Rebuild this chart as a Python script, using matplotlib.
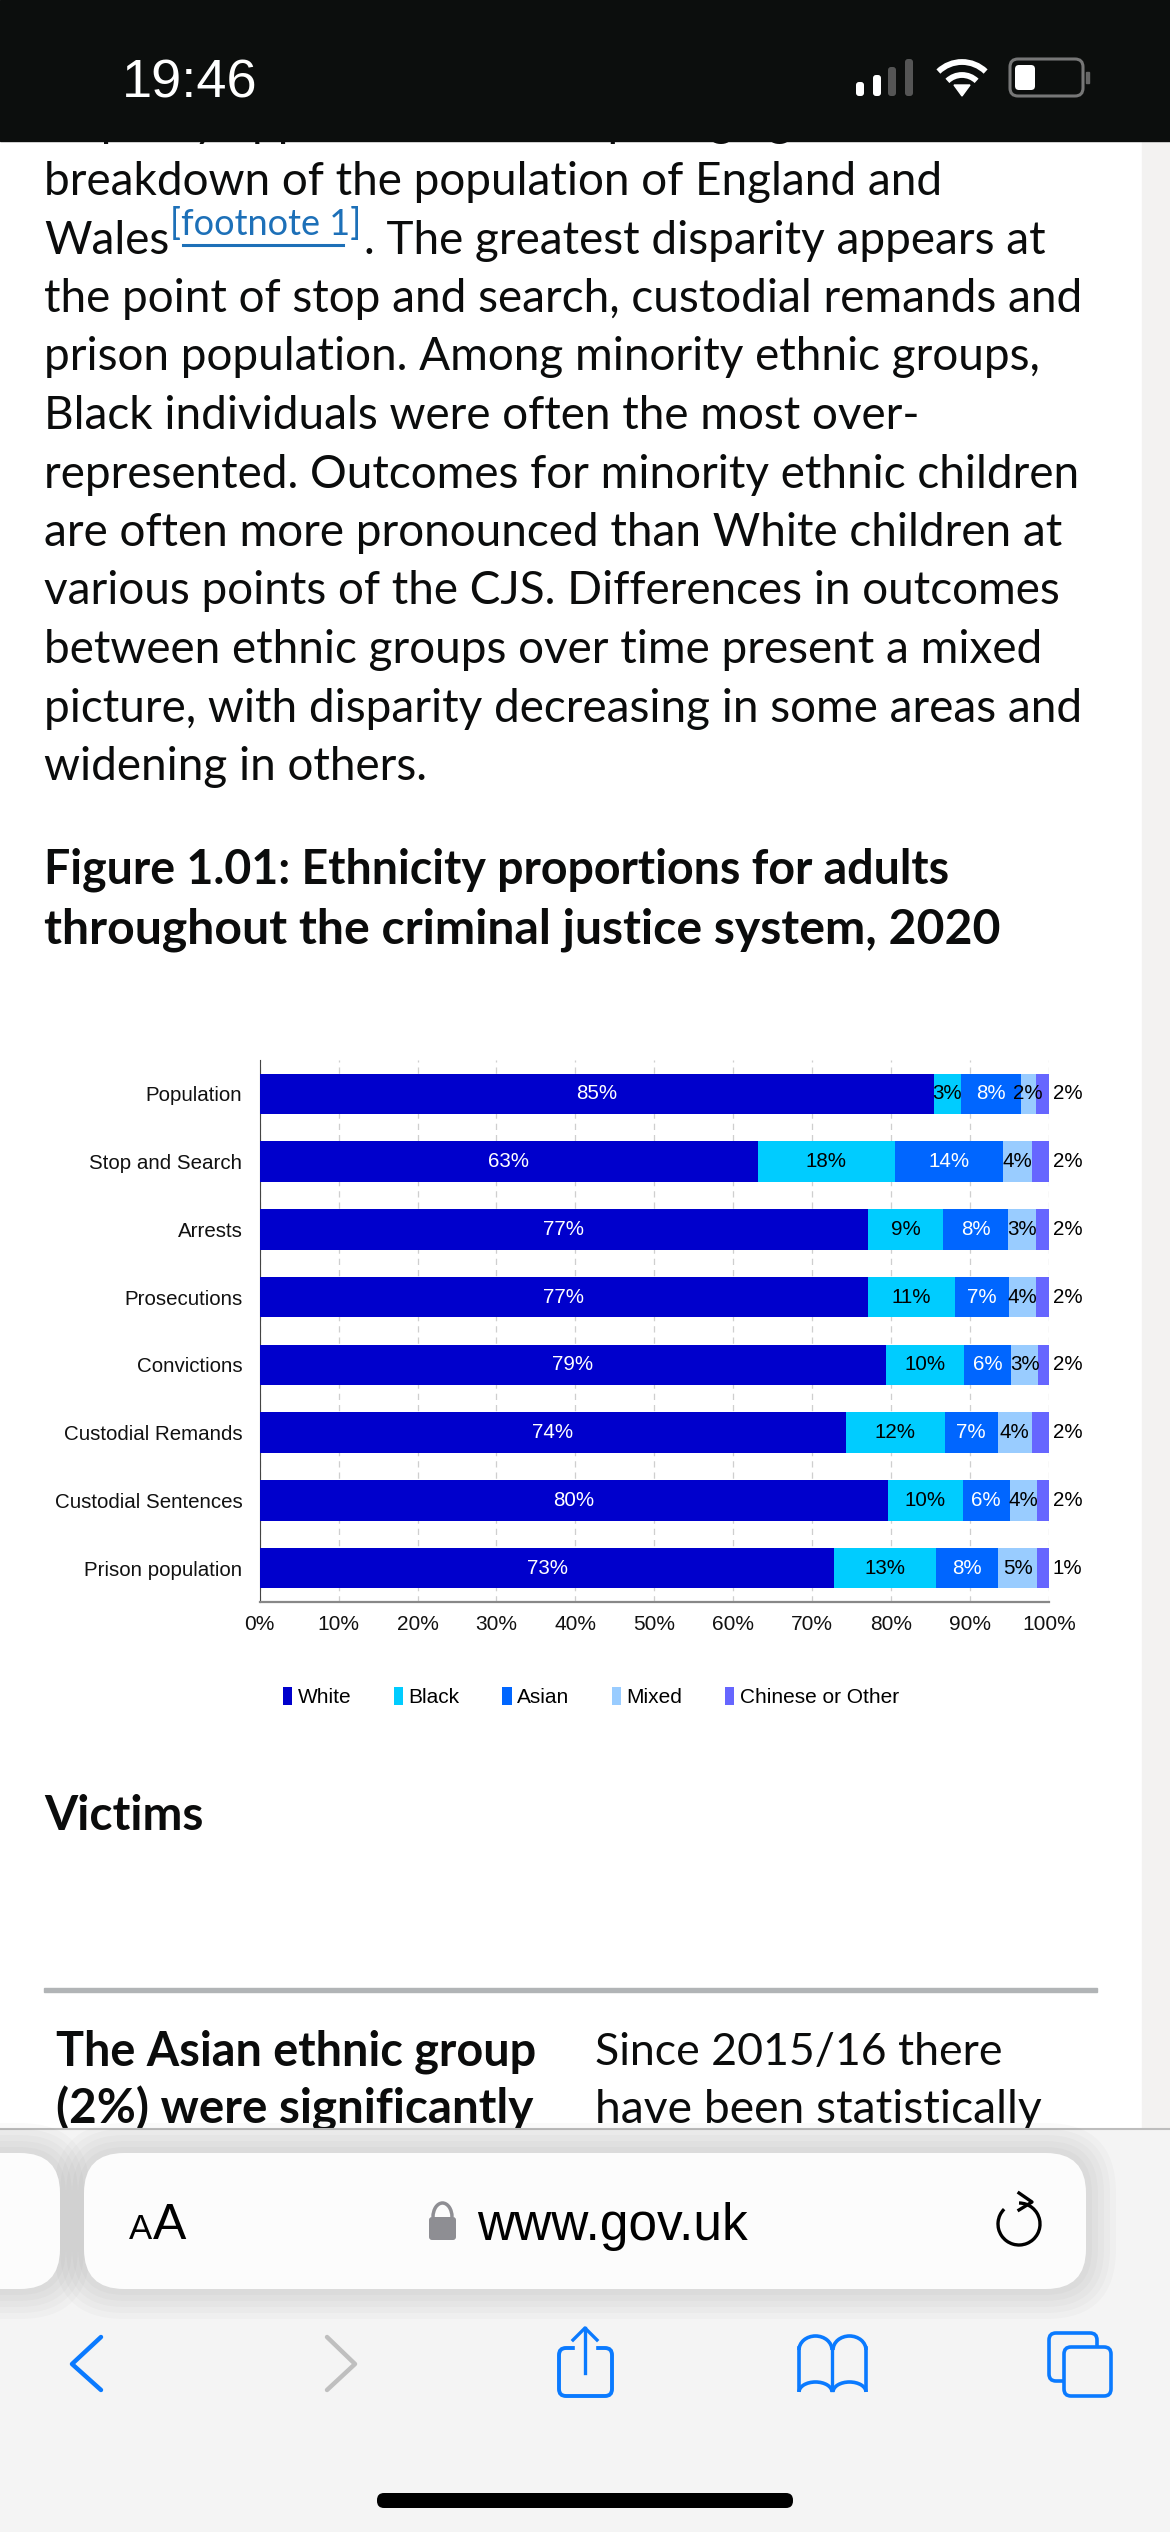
import numpy as np
import matplotlib
matplotlib.use("Agg")
import matplotlib.pyplot as plt
from matplotlib.patches import FancyBboxPatch, Rectangle, Arc, Polygon

categories = ["Population", "Stop and Search", "Arrests", "Prosecutions", "Convictions",
              "Custodial Remands", "Custodial Sentences", "Prison population"]
white = [85.4, 63.1, 77.1, 77.1, 79.3, 74.3, 79.6, 72.8]
black = [3.4, 17.4, 9.5, 11.0, 9.9, 12.5, 9.5, 12.9]
asian = [7.6, 13.7, 8.2, 6.8, 6.0, 6.7, 5.9, 7.9]
mixed = [1.9, 3.7, 3.5, 3.5, 3.4, 4.3, 3.5, 4.9]
other = [1.7, 2.1, 1.7, 1.6, 1.4, 2.2, 1.5, 1.5]

white_labels = ["85%", "63%", "77%", "77%", "79%", "74%", "80%", "73%"]
black_labels = ["3%", "18%", "9%", "11%", "10%", "12%", "10%", "13%"]
asian_labels = ["8%", "14%", "8%", "7%", "6%", "7%", "6%", "8%"]
mixed_labels = ["2%", "4%", "3%", "4%", "3%", "4%", "4%", "5%"]
other_labels = ["2%", "2%", "2%", "2%", "2%", "2%", "2%", "1%"]

series_names = ["White", "Black", "Asian", "Mixed", "Chinese or Other"]
series_colors = ["#0000CC", "#00CCFF", "#0066FF", "#99CCFF", "#6666FF"]
label_colors = ["white", "black", "white", "black", "black"]
x_ticks = [0, 10, 20, 30, 40, 50, 60, 70, 80, 90, 100]

body_lines = [
    "breakdown of the population of England and",
    "Wales",
    "the point of stop and search, custodial remands and",
    "prison population. Among minority ethnic groups,",
    "Black individuals were often the most over-",
    "represented. Outcomes for minority ethnic children",
    "are often more pronounced than White children at",
    "various points of the CJS. Differences in outcomes",
    "between ethnic groups over time present a mixed",
    "picture, with disparity decreasing in some areas and",
    "widening in others.",
]

W, H = 1170, 2532
PAGE_FONT = "Lato"
INK = "#0b0c0c"
BLUE = "#0a7aff"
BODY_SIZE = 33

fig = plt.figure(figsize=(W / 100, H / 100), dpi=100, facecolor="white")

# pixel canvas for the phone screen around the chart
bg = fig.add_axes([0, 0, 1, 1], zorder=0)
bg.set_xlim(0, W)
bg.set_ylim(H, 0)
bg.axis("off")

bg.add_patch(Rectangle((1142, 141), 28, 1990, color="#f3f2f1", zorder=1))

# page text
bg.text(44, 136, "disparity appears when comparing against the", fontsize=BODY_SIZE,
        family=PAGE_FONT, color=INK, va="baseline", zorder=2)
for i, line in enumerate(body_lines):
    bg.text(44, 195 + i * 58.5, line, fontsize=BODY_SIZE, family=PAGE_FONT, color=INK,
            va="baseline", zorder=2)
bg.text(170, 235, "[footnote 1]", fontsize=26, family=PAGE_FONT, color="#1d70b8", va="baseline", zorder=2)
bg.plot([183, 343], [245, 245], color="#1d70b8", lw=2.2, zorder=2)
bg.text(364, 253.5, ". The greatest disparity appears at", fontsize=BODY_SIZE, family=PAGE_FONT,
        color=INK, va="baseline", zorder=2)

bg.text(44, 884, "Figure 1.01: Ethnicity proportions for adults", fontsize=33.5, family=PAGE_FONT,
        weight="bold", color=INK, va="baseline", zorder=2)
bg.text(44, 944, "throughout the criminal justice system, 2020", fontsize=34.7, family=PAGE_FONT,
        weight="bold", color=INK, va="baseline", zorder=2)
bg.text(44, 1830, "Victims", fontsize=34.5, family=PAGE_FONT, weight="bold", color=INK, va="baseline", zorder=2)

bg.add_patch(Rectangle((44, 1988), 1053, 4, color="#b1b4b6", zorder=2))
bg.text(56, 2065, "The Asian ethnic group", fontsize=33.7, family=PAGE_FONT, weight="bold", color=INK, zorder=2)
bg.text(56, 2123, "(2%) were significantly", fontsize=34.3, family=PAGE_FONT, weight="bold", color=INK, zorder=2)
bg.text(595, 2065, "Since 2015/16 there", fontsize=32.1, family=PAGE_FONT, color=INK, zorder=2)
bg.text(595, 2123, "have been statistically", fontsize=33.3, family=PAGE_FONT, color=INK, zorder=2)

# status bar
bg.add_patch(Rectangle((0, 0), W, 141, color="#0c0e0d", zorder=5))
bg.text(190, 97, "19:46", fontsize=39, family="Liberation Sans", color="white", ha="center",
        va="baseline", zorder=6)
for x0, top, col in [(856, 82, "white"), (873, 75, "white"), (888, 67, "#555555"), (905, 59, "#555555")]:
    bg.add_patch(FancyBboxPatch((x0, top), 8, 96 - top, boxstyle="round,pad=0,rounding_size=3",
                                fc=col, ec="none", zorder=6))
for r in [34, 21]:
    bg.add_patch(Arc((962, 96), 2 * r, 2 * r, theta1=226, theta2=314, color="white", lw=4.2, zorder=6))
bg.add_patch(Polygon([[962, 96], [954, 85], [970, 85]], color="white", zorder=6))
bg.add_patch(FancyBboxPatch((1010, 59), 73, 37, boxstyle="round,pad=0,rounding_size=8",
                            fc="none", ec="#777777", lw=2.2, zorder=6))
bg.add_patch(FancyBboxPatch((1015, 65), 20, 25, boxstyle="round,pad=0,rounding_size=4",
                            fc="white", ec="none", zorder=6))
bg.add_patch(Rectangle((1086, 72), 3, 11, color="#666666", zorder=6))

# safari toolbar
bg.add_patch(Rectangle((0, 2129), W, H - 2129, color="#f4f4f4", zorder=10))
bg.plot([0, W], [2129, 2129], color="#bdbdbd", lw=1.5, zorder=11)
for pad in [30, 24, 18, 12, 6]:
    bg.add_patch(FancyBboxPatch((84 - pad, 2153 - pad), 1002 + 2 * pad, 136 + 2 * pad,
                                boxstyle="round,pad=0,rounding_size=%d" % (40 + pad),
                                fc="black", ec="none", alpha=0.02, zorder=11))
    bg.add_patch(FancyBboxPatch((-100, 2153 - pad), 160 + pad, 136 + 2 * pad,
                                boxstyle="round,pad=0,rounding_size=%d" % (40 + pad),
                                fc="black", ec="none", alpha=0.02, zorder=11))
bg.add_patch(FancyBboxPatch((84, 2153), 1002, 136, boxstyle="round,pad=0,rounding_size=40",
                            fc="#fcfcfc", ec="none", zorder=12))
bg.add_patch(FancyBboxPatch((-100, 2153), 160, 136, boxstyle="round,pad=0,rounding_size=40",
                            fc="#fcfcfc", ec="none", zorder=12))
bg.text(129, 2239, "A", fontsize=25, family="Liberation Sans", color="black", zorder=13)
bg.text(153, 2239, "A", fontsize=36, family="Liberation Sans", color="black", zorder=13)
bg.add_patch(FancyBboxPatch((429, 2217), 27, 23, boxstyle="round,pad=0,rounding_size=3",
                            fc="#8e8e93", ec="none", zorder=13))
bg.add_patch(Arc((442.5, 2217), 19, 28, theta1=180, theta2=360, color="#8e8e93", lw=2.5, zorder=13))
bg.text(477, 2240, "www.gov.uk", fontsize=37, family="Liberation Sans", color="black", zorder=13)
bg.add_patch(Arc((1019, 2224), 42, 42, theta1=-90, theta2=225, color="black", lw=2.4, zorder=13))
bg.plot([1019, 1032, 1019], [2193, 2202, 2210], color="black", lw=2.4, zorder=13)

bg.plot([101, 72, 101], [2337, 2364, 2390], color=BLUE, lw=3.2, solid_capstyle="round", zorder=13)
bg.plot([327, 355, 327], [2337, 2364, 2390], color="#bfbfbf", lw=3.2, solid_capstyle="round", zorder=13)
bg.add_patch(FancyBboxPatch((559, 2348), 53, 48, boxstyle="round,pad=0,rounding_size=7",
                            fc="none", ec=BLUE, lw=2.8, zorder=13))
bg.add_patch(Rectangle((575, 2340), 20, 14, color="#f4f4f4", zorder=13))
bg.plot([585, 585], [2373, 2328], color=BLUE, lw=2.4, zorder=14)
bg.plot([573, 585, 597], [2340, 2328, 2340], color=BLUE, lw=2.4, zorder=14)
bg.plot([832, 832], [2348, 2390], color=BLUE, lw=2.4, zorder=14)
bg.plot([799, 799], [2348, 2390], color=BLUE, lw=2.6, zorder=14)
bg.plot([866, 866], [2348, 2390], color=BLUE, lw=2.6, zorder=14)
for cx in [815.5, 849.5]:
    bg.add_patch(Arc((cx, 2350), 33, 28, theta1=180, theta2=360, color=BLUE, lw=2.6, zorder=14))
    bg.add_patch(Arc((cx, 2392), 33, 20, theta1=180, theta2=360, color=BLUE, lw=2.6, zorder=14))
bg.add_patch(FancyBboxPatch((1049, 2333), 48, 48, boxstyle="round,pad=0,rounding_size=7",
                            fc="none", ec=BLUE, lw=2.6, zorder=13))
bg.add_patch(FancyBboxPatch((1064, 2347), 47, 49, boxstyle="round,pad=0,rounding_size=7",
                            fc="#f4f4f4", ec=BLUE, lw=2.6, zorder=14))
bg.add_patch(FancyBboxPatch((377, 2493), 416, 15, boxstyle="round,pad=0,rounding_size=7",
                            fc="black", ec="none", zorder=13))

# the chart itself
ax_left, ax_right, ax_top, ax_bottom = 259.7, 1049, 1060, 1602
ax = fig.add_axes([ax_left / W, 1 - ax_bottom / H, (ax_right - ax_left) / W, (ax_bottom - ax_top) / H], zorder=3)
ax.patch.set_alpha(0)

CHART_FONT = "Liberation Sans"
values = [white, black, asian, mixed, other]
labels = [white_labels, black_labels, asian_labels, mixed_labels, other_labels]
y = np.arange(len(categories))
left = np.zeros(len(categories))
handles = []
for k, name in enumerate(series_names):
    vals = np.array(values[k])
    bars = ax.barh(y, vals, left=left, height=0.6, color=series_colors[k], label=name, zorder=3)
    handles.append(bars)
    for i in range(len(categories)):
        if k == len(series_names) - 1:
            ax.annotate(labels[k][i], (100, i), xytext=(13.5, 0), textcoords="offset points", ha="center",
                        va="center", fontsize=14.8, family=CHART_FONT, color="black", annotation_clip=False, zorder=4)
        else:
            ax.text(left[i] + vals[i] / 2, i, labels[k][i], ha="center", va="center", fontsize=14.8,
                    family=CHART_FONT, color=label_colors[k], zorder=4)
    left = left + vals

ax.set_xlim(0, 100)
ax.set_ylim(len(categories) - 0.5, -0.5)
ax.set_yticks(y)
ax.set_yticklabels(categories, fontsize=14.8, family=CHART_FONT, color="#111111")
ax.set_xticks(x_ticks)
ax.set_xticklabels(["%d%%" % t for t in x_ticks], fontsize=15, family=CHART_FONT, color="#111111")
ax.tick_params(axis="both", length=0)
ax.tick_params(axis="y", pad=12.5)
ax.tick_params(axis="x", pad=9)
ax.grid(axis="x", color="#cfcfcf", linestyle=(0, (5, 4)), lw=0.9, zorder=0)
ax.set_axisbelow(True)
for side in ["top", "right"]:
    ax.spines[side].set_visible(False)
ax.spines["left"].set_color("#444444")
ax.spines["left"].set_linewidth(0.8)
ax.spines["bottom"].set_color("#888888")
ax.spines["bottom"].set_linewidth(1.6)

leg = ax.legend(handles=handles, loc="center left", bbox_to_anchor=(283 / W, 1 - 1697 / H),
                bbox_transform=fig.transFigure, ncol=5, frameon=False,
                prop={"family": CHART_FONT, "size": 15}, handlelength=0.45, handleheight=1.0,
                handletextpad=0.25, columnspacing=2.05, borderpad=0, borderaxespad=0)

fig.savefig("out.png", dpi=100)
plt.close(fig)
